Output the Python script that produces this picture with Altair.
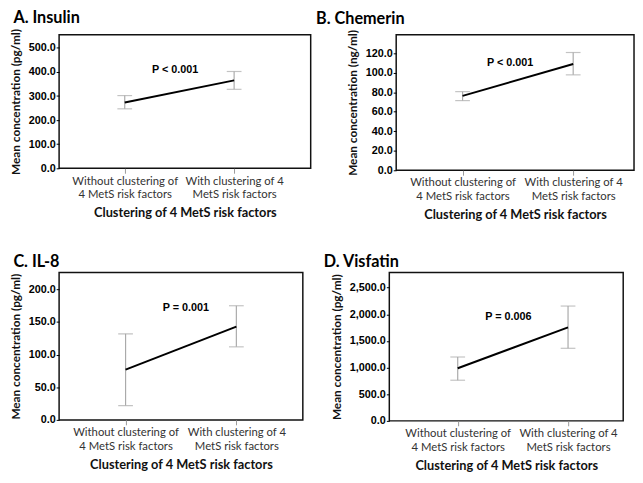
import altair as alt
import pandas as pd

groups = ["Without clustering of|4 MetS risk factors", "With clustering of 4|MetS risk factors"]
x_pos = [0, 1]
x_title = "Clustering of 4 MetS risk factors"

titles = ["A. Insulin", "B. Chemerin", "C. IL-8", "D. Visfatin"]
units = ["pg/ml", "ng/ml", "pg/ml", "pg/ml"]

insulin_mean = [273, 365]
insulin_low = [247, 328]
insulin_high = [302, 402]

chemerin_mean = [76.2, 108.9]
chemerin_low = [71.4, 97.8]
chemerin_high = [80.6, 120.7]

il8_mean = [77, 143]
il8_low = [22, 112]
il8_high = [132, 175]

visfatin_mean = [987, 1755]
visfatin_low = [763, 1362]
visfatin_high = [1199, 2155]

p_text = ["P < 0.001", "P < 0.001", "P = 0.001", "P = 0.006"]
p_y = [410, 110, 171, 1955]
p_x = [0.46, 0.43, 0.545, 0.46]

y_max = [555, 139, 226, 2785]
y_ticks = [
    [0, 100, 200, 300, 400, 500],
    [0, 20, 40, 60, 80, 100, 120],
    [0, 50, 100, 150, 200],
    [0, 500, 1000, 1500, 2000, 2500],
]
x_domains = [[-0.6, 1.7], [-0.6, 1.55], [-0.6, 1.6], [-0.62, 1.5]]

means = [insulin_mean, chemerin_mean, il8_mean, visfatin_mean]
lows = [insulin_low, chemerin_low, il8_low, visfatin_low]
highs = [insulin_high, chemerin_high, il8_high, visfatin_high]

label_expr = f"split(datum.value < 0.5 ? '{groups[0]}' : '{groups[1]}', '|')"

LABEL_FONT = "Lato"
TICK_FONT = "Liberation Sans"


def panel(i, w, h, title_dx):
    df = pd.DataFrame({
        "x": x_pos,
        "group": groups,
        "mean": means[i],
        "low": lows[i],
        "high": highs[i],
    })
    ann = pd.DataFrame({"x": [p_x[i]], "y": [p_y[i]], "t": [p_text[i]]})

    xscale = alt.Scale(domain=x_domains[i], nice=False, zero=False)
    xaxis = alt.Axis(
        values=[0, 1], labelExpr=label_expr, grid=False, domain=False,
        tickColor="#999999", tickSize=5, labelFont=LABEL_FONT, labelFontSize=11.5,
        labelColor="#333333", labelPadding=2, labelLineHeight=14, labelBaseline="top",
        titleFont=LABEL_FONT, titleFontSize=13, titleFontWeight="bold",
        titleColor="#111111", titlePadding=7,
    )
    yscale = alt.Scale(domain=[0, y_max[i]], nice=False, zero=True)
    yaxis = alt.Axis(
        values=y_ticks[i], format=",.1f", grid=False, domain=False,
        tickColor="#000000", tickSize=3, labelFont=TICK_FONT, labelFontSize=11,
        labelFontWeight="bold", labelColor="#000000", labelPadding=1,
        titleFont=LABEL_FONT, titleFontSize=12, titleFontWeight="bold",
        titleColor="#111111", titlePadding=6,
    )
    ytitle = f"Mean concentration ({units[i]})"

    def X(field):
        return alt.X(f"{field}:Q", scale=xscale, axis=xaxis, title=x_title)

    def Y(field):
        return alt.Y(f"{field}:Q", scale=yscale, axis=yaxis, title=ytitle)

    base = alt.Chart(df)
    err = base.mark_rule(color="#aaaaaa", strokeWidth=1.2).encode(
        x=X("x"), y=Y("low"), y2="high:Q")
    cap_lo = base.mark_tick(color="#aaaaaa", size=15, thickness=1.2,
                            orient="horizontal").encode(x=X("x"), y=Y("low"))
    cap_hi = base.mark_tick(color="#aaaaaa", size=15, thickness=1.2,
                            orient="horizontal").encode(x=X("x"), y=Y("high"))
    line = base.mark_line(color="#000000", strokeWidth=2).encode(
        x=X("x"), y=Y("mean"))
    text = alt.Chart(ann).mark_text(
        font=TICK_FONT, fontSize=11, fontWeight="bold", color="#000000",
        align="center", baseline="middle").encode(
        x=X("x"), y=Y("y"), text="t:N")

    return alt.layer(err, cap_lo, cap_hi, line, text).properties(
        width=w, height=h,
        title=alt.TitleParams(
            titles[i], anchor="start", frame="bounds", font=LABEL_FONT,
            fontSize=16.5, fontWeight="bold", color="#000000", dx=title_dx, offset=2),
    )


row1 = alt.hconcat(panel(0, 256, 136, 4), panel(1, 242, 138, -31), spacing=3)
row2 = alt.hconcat(panel(2, 248, 150, 4), panel(3, 238, 151, -7), spacing=19)

chart = alt.vconcat(row1, row2, spacing=30).properties(
    padding={"left": 0, "top": -3, "right": 0, "bottom": 0}
).configure(
    background="white"
).configure_view(
    stroke="#111111", strokeWidth=1.5
)

chart.save("out.html", embed_options={"renderer": "svg", "actions": False})
